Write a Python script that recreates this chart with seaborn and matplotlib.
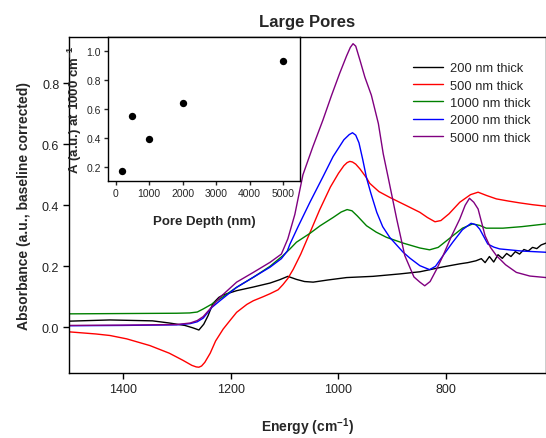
import numpy as np
import pandas as pd
import matplotlib
matplotlib.use("Agg")
import matplotlib.pyplot as plt
import seaborn as sns

# ---------------- data ----------------
series_names = ["200 nm thick", "500 nm thick", "1000 nm thick", "2000 nm thick", "5000 nm thick"]
series_colors = ["#000000", "#ff0000", "#008000", "#0000ff", "#800080"]

e_200 = [1500, 1424, 1345, 1314, 1285, 1270, 1259, 1250, 1242, 1233, 1222, 1214, 1189, 1158, 1127,
         1109, 1094, 1078, 1063, 1047, 1020, 985, 936, 886, 849, 806, 775, 760, 745, 735, 728, 720,
         712, 704, 696, 688, 680, 672, 664, 656, 648, 640, 632, 624, 615]
a_200 = [0.020, 0.024, 0.021, 0.014, 0.006, -0.002, -0.009, 0.010, 0.038, 0.078, 0.098, 0.106, 0.120,
         0.132, 0.145, 0.156, 0.167, 0.157, 0.150, 0.148, 0.155, 0.163, 0.167, 0.175, 0.182, 0.198,
         0.208, 0.212, 0.218, 0.225, 0.212, 0.232, 0.214, 0.238, 0.226, 0.242, 0.232, 0.248, 0.240,
         0.255, 0.250, 0.262, 0.258, 0.270, 0.276]

e_500 = [1500, 1450, 1424, 1393, 1350, 1314, 1289, 1272, 1264, 1259, 1254, 1248, 1238, 1228, 1214,
         1200, 1189, 1170, 1158, 1140, 1127, 1112, 1103, 1094, 1084, 1070, 1053, 1035, 1015, 1000,
         990, 984, 979, 974, 968, 960, 948, 942, 925, 905, 874, 849, 835, 821, 810, 795, 775, 755, 741,
         725, 707, 685, 664, 640, 615]
a_500 = [-0.015, -0.022, -0.027, -0.038, -0.060, -0.085, -0.108, -0.125, -0.130, -0.131, -0.127,
         -0.115, -0.085, -0.045, -0.006, 0.025, 0.049, 0.075, 0.087, 0.100, 0.110, 0.123, 0.140, 0.160,
         0.190, 0.240, 0.310, 0.385, 0.460, 0.505, 0.530, 0.540, 0.544, 0.542, 0.535, 0.519, 0.490,
         0.472, 0.445, 0.426, 0.399, 0.377, 0.360, 0.346, 0.350, 0.372, 0.410, 0.435, 0.443, 0.432,
         0.421, 0.414, 0.408, 0.402, 0.397]

e_1000 = [1500, 1400, 1300, 1276, 1262, 1251, 1235, 1220, 1189, 1158, 1127, 1110, 1103, 1090, 1078,
          1053, 1034, 1010, 995, 984, 975, 965, 948, 930, 911, 880, 849, 831, 815, 788, 770, 751, 738,
          726, 695, 660, 615]
a_1000 = [0.044, 0.045, 0.046, 0.047, 0.050, 0.060, 0.076, 0.093, 0.131, 0.164, 0.200, 0.225, 0.235,
          0.257, 0.279, 0.308, 0.333, 0.360, 0.378, 0.386, 0.382, 0.365, 0.333, 0.312, 0.295, 0.276,
          0.260, 0.254, 0.262, 0.300, 0.325, 0.339, 0.334, 0.325, 0.325, 0.330, 0.339]

e_2000 = [1500, 1400, 1300, 1275, 1262, 1251, 1235, 1220, 1189, 1158, 1127, 1106, 1095, 1090, 1075,
          1053, 1029, 1010, 990, 980, 974, 968, 962, 955, 948, 940, 929, 918, 905, 880, 867, 849, 831,
          820, 806, 788, 770, 754, 745, 738, 723, 712, 701, 660, 615]
a_2000 = [0.005, 0.006, 0.008, 0.012, 0.018, 0.030, 0.065, 0.087, 0.131, 0.164, 0.197, 0.225, 0.250,
          0.273, 0.330, 0.410, 0.493, 0.560, 0.615, 0.632, 0.638, 0.630, 0.605, 0.550, 0.490, 0.440,
          0.377, 0.330, 0.295, 0.246, 0.226, 0.202, 0.189, 0.200, 0.235, 0.279, 0.320, 0.341, 0.336,
          0.322, 0.273, 0.263, 0.257, 0.250, 0.246]

e_5000 = [1500, 1400, 1300, 1275, 1262, 1251, 1233, 1220, 1189, 1158, 1127, 1106, 1094, 1081, 1066,
          1048, 1029, 1013, 998, 985, 978, 973, 968, 960, 951, 939, 926, 917, 908, 892, 877, 860, 849,
          840, 830, 818, 806, 790, 775, 765, 757, 749, 741, 728, 718, 707, 690, 670, 645, 615]
a_5000 = [0.006, 0.007, 0.009, 0.014, 0.022, 0.035, 0.071, 0.098, 0.148, 0.180, 0.213, 0.240, 0.290,
          0.370, 0.500, 0.590, 0.679, 0.760, 0.832, 0.890, 0.918, 0.930, 0.922, 0.875, 0.820, 0.761,
          0.668, 0.569, 0.493, 0.355, 0.235, 0.165, 0.148, 0.136, 0.150, 0.190, 0.235, 0.300, 0.355,
          0.400, 0.423, 0.410, 0.388, 0.300, 0.262, 0.235, 0.205, 0.180, 0.168, 0.163]

pore_depth = [200, 500, 1000, 2000, 5000]
a_at_1000 = [0.17, 0.55, 0.39, 0.64, 0.93]

x_ticks_main = [1400, 1200, 1000, 800]
y_ticks_main = [0.0, 0.2, 0.4, 0.6, 0.8]
x_ticks_inset = [0, 1000, 2000, 3000, 4000, 5000]
y_ticks_inset = [0.2, 0.4, 0.6, 0.8, 1.0]

# ---------------- build long table ----------------
frames = []
for name, e, a in zip(series_names,
                      [e_200, e_500, e_1000, e_2000, e_5000],
                      [a_200, a_500, a_1000, a_2000, a_5000]):
    frames.append(pd.DataFrame({"Energy": e, "Absorbance": a, "Sample": name}))
spectra = pd.DataFrame(pd.concat(frames, ignore_index=True))
inset_df = pd.DataFrame({"Depth": pore_depth, "A": a_at_1000})

# ---------------- style ----------------
sns.set_theme(style="ticks")
plt.rcParams["font.family"] = ["Liberation Sans", "DejaVu Sans"]
plt.rcParams["mathtext.fontset"] = "custom"
plt.rcParams["mathtext.rm"] = "Liberation Sans:bold"
plt.rcParams["mathtext.default"] = "rm"
plt.rcParams["axes.linewidth"] = 1.0
plt.rcParams["xtick.major.width"] = 1.0
plt.rcParams["ytick.major.width"] = 1.0
plt.rcParams["xtick.major.size"] = 4
plt.rcParams["ytick.major.size"] = 4
plt.rcParams["xtick.direction"] = "out"
plt.rcParams["ytick.direction"] = "out"

fig = plt.figure(figsize=(5.46, 4.39), dpi=100)
ax = fig.add_axes([69 / 546, 1 - 374 / 439, 1 - 69 / 546, (374 - 38) / 439])

sns.lineplot(data=spectra, x="Energy", y="Absorbance", hue="Sample",
             hue_order=series_names, palette=series_colors, estimator=None,
             sort=False, linewidth=1.0, ax=ax)

ax.set_xlim(1500, 615)
ax.set_ylim(-0.15, 0.952)
ax.set_xticks(x_ticks_main)
ax.set_yticks(y_ticks_main)
ax.set_yticklabels([f"{v:.1f}" for v in y_ticks_main])
ax.tick_params(axis="both", labelsize=9, colors="black", pad=3)
for lab in ax.get_xticklabels() + ax.get_yticklabels():
    lab.set_color("#222222")
for sp in ax.spines.values():
    sp.set_color("black")
ax.set_xlabel("Energy (cm$^{-1}$)", fontsize=10, fontweight="bold", labelpad=15)
ax.set_ylabel("Absorbance (a.u., baseline corrected)", fontsize=10, fontweight="bold", labelpad=8)
ax.set_title("Large Pores", fontsize=12, fontweight="bold", pad=8)

leg = ax.legend(loc="upper left", bbox_to_anchor=(413 / 546, 1 - 63 / 439),
                bbox_transform=fig.transFigure, frameon=False, fontsize=9.3,
                handlelength=2.3, handletextpad=0.6, labelspacing=0.42,
                borderpad=0, borderaxespad=0)

# ---------------- inset ----------------
ins = fig.add_axes([108 / 546, 1 - 182 / 439, (300 - 108) / 546, (182 - 38) / 439])
sns.scatterplot(data=inset_df, x="Depth", y="A", color="black", s=28,
                edgecolor="black", linewidth=0, ax=ins)
ins.set_xlim(-230, 5500)
ins.set_ylim(0.1, 1.1)
ins.set_xticks(x_ticks_inset)
ins.set_yticks(y_ticks_inset)
ins.set_yticklabels([f"{v:.1f}" for v in y_ticks_inset])
ins.tick_params(axis="both", labelsize=7.5, pad=2, length=3)
for sp in ins.spines.values():
    sp.set_color("black")
    sp.set_linewidth(1.0)
ins.set_xlabel("Pore Depth (nm)", fontsize=9.5, fontweight="bold", labelpad=12)
ins.set_ylabel("A (a.u.) at 1000 cm$^{-1}$", fontsize=9.5, fontweight="bold", labelpad=2)

fig.savefig("out.png", dpi=100)
